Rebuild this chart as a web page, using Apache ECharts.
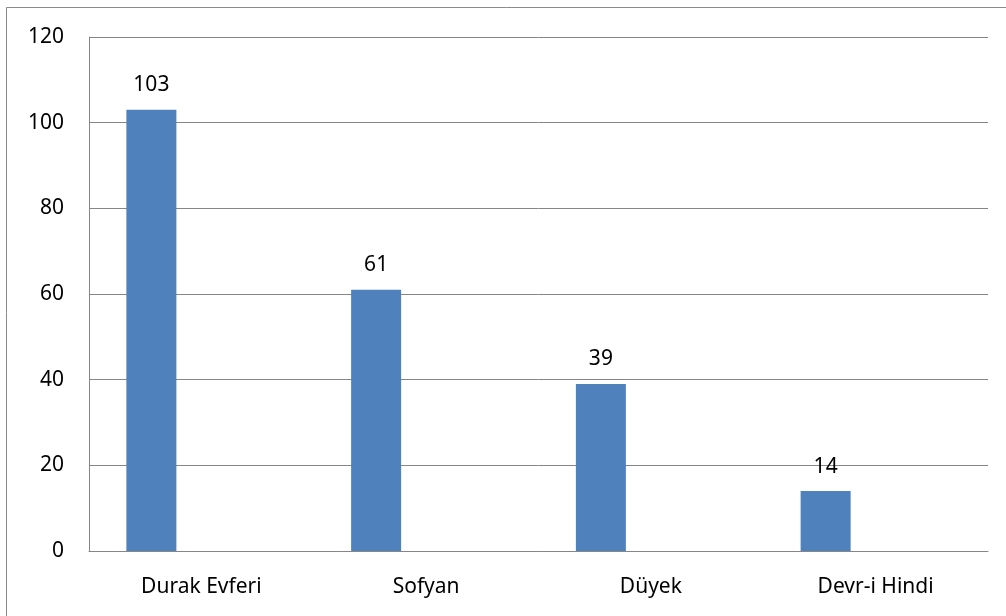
<!DOCTYPE html>
<html>
<head>
<meta charset="utf-8">
<script src="https://cdn.jsdelivr.net/npm/echarts@6/dist/echarts.min.js"></script>
<style>
html,body{margin:0;padding:0;background:#fff;}
#chart{width:1006px;height:616px;}
</style>
</head>
<body>
<div id="chart"></div>
<script>
const categories = ['Durak Evferi', 'Sofyan', 'Düyek', 'Devr-i Hindi'];
const values = [103, 61, 39, 14];
const yTicks = [0, 20, 40, 60, 80, 100, 120];

const FONT = 'Noto Sans';
const chart = echarts.init(document.getElementById('chart'));
const emptySeries = categories.map(() => null);
chart.setOption({
  animation: false,
  backgroundColor: '#ffffff',
  graphic: [{
    type: 'rect',
    shape: { x: 6.5, y: 7.5, width: 1100, height: 700 },
    style: { fill: 'none', stroke: '#8a8a8a', lineWidth: 1 },
    silent: true
  }],
  grid: { left: 89, right: 18, top: 37, bottom: 65, containLabel: false },
  xAxis: {
    type: 'category',
    data: categories,
    axisLine: { show: true, lineStyle: { color: '#868686', width: 1 } },
    axisTick: { show: false },
    axisLabel: { color: '#000', fontFamily: FONT, fontSize: 21, margin: 26 }
  },
  yAxis: {
    type: 'value',
    min: yTicks[0],
    max: yTicks[yTicks.length - 1],
    interval: 20,
    axisLine: { show: true, lineStyle: { color: '#868686', width: 1 } },
    axisTick: { show: false },
    splitLine: { show: true, lineStyle: { color: '#868686', width: 1 } },
    axisLabel: { color: '#000', fontFamily: FONT, fontSize: 21, margin: 25 }
  },
  series: [
    {
      type: 'bar',
      data: values,
      barWidth: 50,
      barGap: '0%',
      itemStyle: { color: '#4f81bd' },
      label: {
        show: true, position: 'top', distance: 14,
        color: '#000', fontFamily: FONT, fontSize: 21
      }
    },
    { type: 'bar', data: emptySeries, barWidth: 50, barGap: '0%' },
    { type: 'bar', data: emptySeries, barWidth: 50, barGap: '0%' }
  ]
});
</script>
</body>
</html>
